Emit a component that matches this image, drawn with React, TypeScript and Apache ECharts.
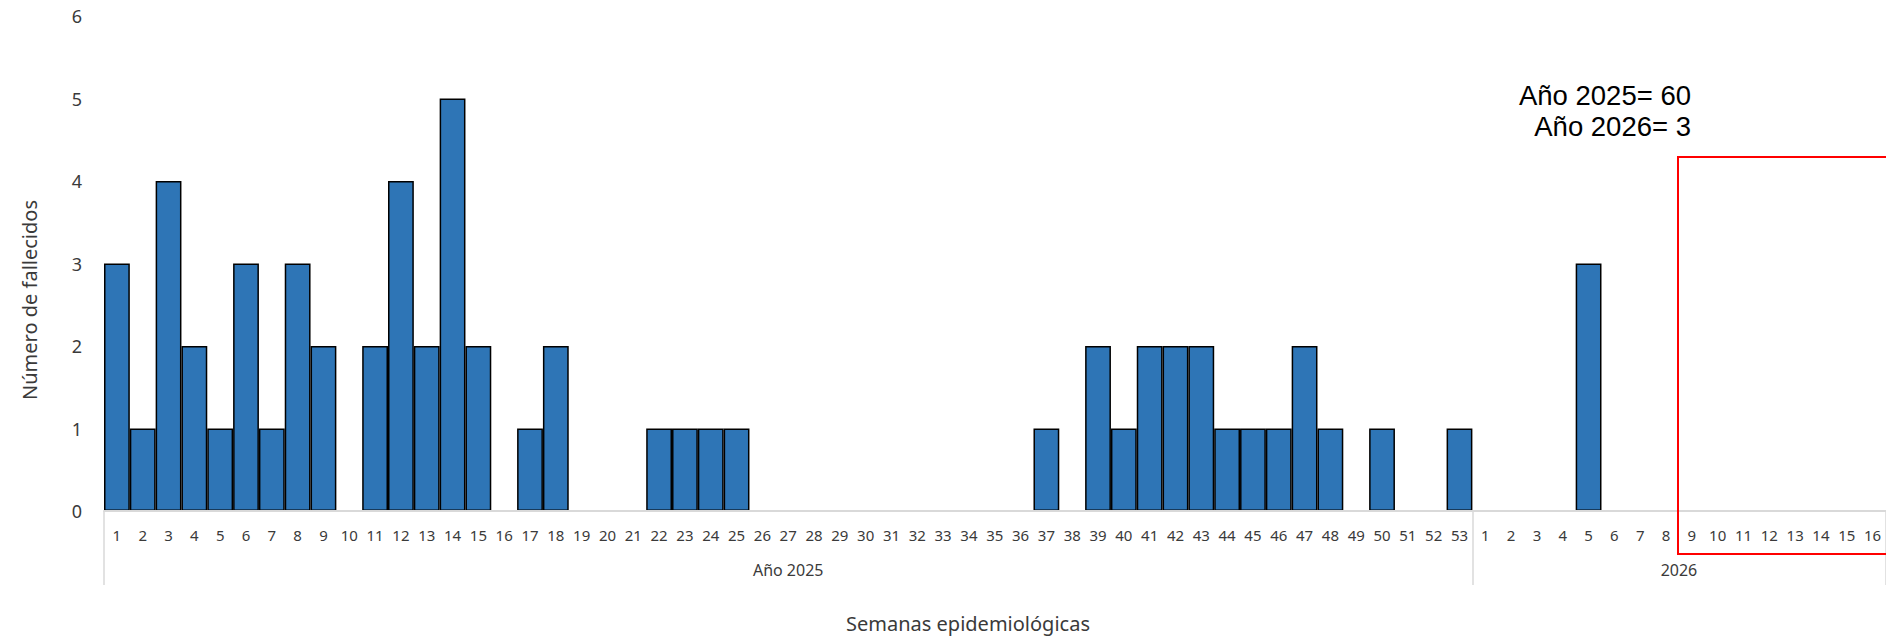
import React, { useEffect, useRef } from "react";
import * as echarts from "echarts";

// ---- Data ----
const weeks2025: string[] = [
  "1", "2", "3", "4", "5", "6", "7", "8", "9", "10",
  "11", "12", "13", "14", "15", "16", "17", "18", "19", "20",
  "21", "22", "23", "24", "25", "26", "27", "28", "29", "30",
  "31", "32", "33", "34", "35", "36", "37", "38", "39", "40",
  "41", "42", "43", "44", "45", "46", "47", "48", "49", "50",
  "51", "52", "53",
];
const weeks2026: string[] = [
  "1", "2", "3", "4", "5", "6", "7", "8", "9", "10",
  "11", "12", "13", "14", "15", "16",
];
const deaths2025: number[] = [
  3, 1, 4, 2, 1, 3, 1, 3, 2, 0,
  2, 4, 2, 5, 2, 0, 1, 2, 0, 0,
  0, 1, 1, 1, 1, 0, 0, 0, 0, 0,
  0, 0, 0, 0, 0, 0, 1, 0, 2, 1,
  2, 2, 2, 1, 1, 1, 2, 1, 0, 1,
  0, 0, 1,
];
const deaths2026: number[] = [0, 0, 0, 0, 3, 0, 0, 0, 0, 0, 0, 0, 0, 0, 0, 0];
const groupNames: string[] = ["Año 2025", "2026"];
const yTicks: number[] = [0, 1, 2, 3, 4, 5, 6];
const totalsText: string[] = ["Año 2025= 60", "Año 2026= 3"];
const xTitle = "Semanas epidemiológicas";
const yTitle = "Número de fallecidos";

const W = 1886;
const H = 637;

export default function App() {
  const ref = useRef<HTMLDivElement>(null);

  useEffect(() => {
    if (!ref.current) return;
    const chart = echarts.init(ref.current, undefined, { renderer: "svg" });

    const categories = [...weeks2025, ...weeks2026];
    const values = [...deaths2025, ...deaths2026].map((v) => (v === 0 ? null : v));
    const n1 = weeks2025.length;
    const n2 = weeks2026.length;
    const total = n1 + n2;

    const font = "'Noto Sans', 'DejaVu Sans', sans-serif";
    const textColor = "#3a3a3a";
    const axisGray = "#D9D9D9";

    chart.setOption({
      animation: false,
      backgroundColor: "#ffffff",
      grid: { left: 104, right: 0.5, top: 16, bottom: H - 511, containLabel: false },
      xAxis: [
        {
          type: "category",
          data: categories,
          boundaryGap: true,
          axisLine: { show: true, lineStyle: { color: axisGray, width: 2 } },
          axisTick: { show: false },
          axisLabel: {
            interval: 0,
            fontSize: 15,
            fontFamily: font,
            color: textColor,
            margin: 16,
          },
          splitLine: { show: false },
          z: 3,
        },
        {
          type: "value",
          min: 0,
          max: total,
          position: "bottom",
          axisLine: { show: false },
          splitLine: { show: false },
          axisTick: {
            show: true,
            length: 74,
            customValues: [0, n1, total],
            lineStyle: { color: axisGray, width: 1.5 },
          },
          axisLabel: {
            show: true,
            customValues: [n1 / 2, n1 + n2 / 2],
            formatter: (v: number) => (v < n1 ? groupNames[0] : groupNames[1]),
            fontSize: 16,
            fontFamily: font,
            color: textColor,
            margin: 51,
          },
        },
      ],
      yAxis: {
        type: "value",
        min: yTicks[0],
        max: yTicks[yTicks.length - 1],
        interval: 1,
        axisLine: { show: false },
        axisTick: { show: false },
        splitLine: { show: false },
        axisLabel: {
          fontSize: 18,
          fontFamily: font,
          color: textColor,
          margin: 22,
        },
      },
      series: [
        {
          type: "bar",
          xAxisIndex: 0,
          data: values,
          barCategoryGap: "0%",
          barGap: "0%",
          itemStyle: {
            color: "#2E75B6",
            borderColor: "#000000",
            borderWidth: 1.5,
          },
          z: 2,
        },
      ],
      graphic: [
        {
          type: "text",
          x: 29,
          y: 300,
          rotation: Math.PI / 2,
          style: {
            text: yTitle,
            align: "center",
            verticalAlign: "middle",
            fontSize: 20,
            fontFamily: font,
            fill: textColor,
          },
        },
        {
          type: "text",
          x: 968,
          y: 623,
          style: {
            text: xTitle,
            align: "center",
            verticalAlign: "middle",
            fontSize: 20,
            fontFamily: font,
            fill: textColor,
          },
        },
        {
          type: "text",
          x: 1691,
          y: 111,
          style: {
            text: totalsText.join("\n"),
            align: "right",
            verticalAlign: "middle",
            fontSize: 27.5,
            lineHeight: 31,
            fontFamily: "'Liberation Sans', Arial, sans-serif",
            fill: "#000000",
          },
        },
        {
          type: "rect",
          shape: { x: 1678, y: 157, width: 220, height: 397 },
          style: { fill: "none", stroke: "#FF0000", lineWidth: 2 },
          z: 10,
        },
      ],
    });

    return () => {
      chart.dispose();
    };
  }, []);

  return (
    <div
      ref={ref}
      style={{ position: "absolute", left: 0, top: 0, width: W, height: H, background: "#fff" }}
    />
  );
}
